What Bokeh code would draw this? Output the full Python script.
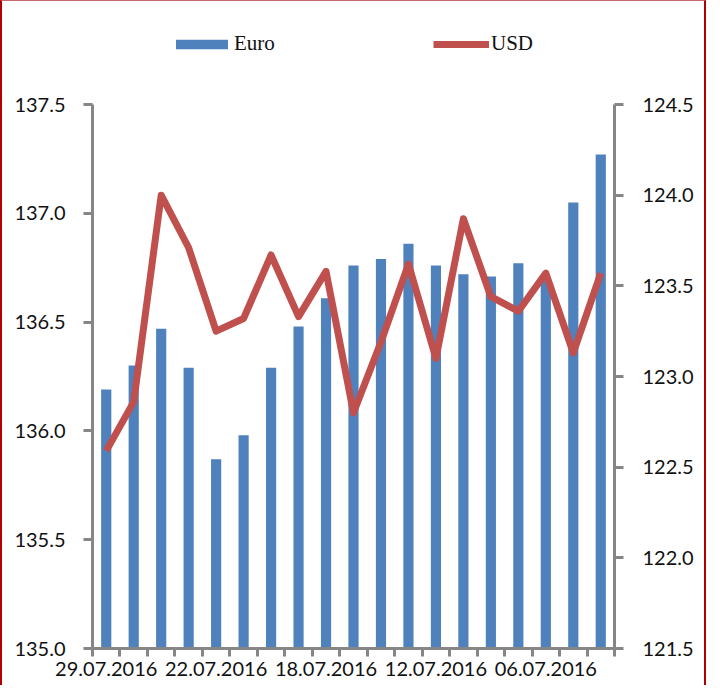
from bokeh.plotting import figure
from bokeh.models import (Range1d, LinearAxis, FixedTicker, SingleIntervalTicker,
                          NumeralTickFormatter, Legend, LegendItem)
from bokeh.embed import file_html
from bokeh.resources import INLINE

# ---- data ----
dates = ["29.07.2016", "28.07.2016", "27.07.2016", "26.07.2016", "22.07.2016",
         "21.07.2016", "20.07.2016", "19.07.2016", "18.07.2016", "15.07.2016",
         "14.07.2016", "13.07.2016", "12.07.2016", "11.07.2016", "08.07.2016",
         "07.07.2016", "06.07.2016", "05.07.2016", "04.07.2016"]
euro = [136.19, 136.30, 136.47, 136.29, 135.87, 135.98, 136.29, 136.48, 136.61, 136.76,
        136.79, 136.86, 136.76, 136.72, 136.71, 136.77, 136.70, 137.05, 137.27]
usd = [122.59, 122.86, 124.00, 123.71, 123.25, 123.32, 123.67, 123.33, 123.58, 122.80,
       123.19, 123.62, 123.10, 123.87, 123.44, 123.36, 123.57, 123.13, 123.57]
euro_range = (135.0, 137.5)
usd_range = (121.5, 124.5)
label_every = 4

n = len(dates)
idx = list(range(n))

AXIS = "#868686"
TICK_FONT = "Lato"

# geometry: the value axes span AXIS_PX pixels; LEGEND_PX extra pixels above
# them are kept inside the frame so the legend is not clipped.
AXIS_PX = 544
LEGEND_PX = 72
ext = (AXIS_PX + LEGEND_PX) / AXIS_PX

def extended(r):
    return Range1d(r[0], r[0] + (r[1] - r[0]) * ext)

p = figure(frame_width=522, frame_height=AXIS_PX + LEGEND_PX,
           x_range=Range1d(-0.5, n - 0.5), y_range=extended(euro_range),
           output_backend="svg", toolbar_location=None,
           min_border_left=90, min_border_right=90, min_border_top=31,
           min_border_bottom=37)
p.extra_y_ranges = {"usd": extended(usd_range)}
p.xgrid.visible = False
p.ygrid.visible = False
p.outline_line_color = None
p.background_fill_color = "white"
p.border_fill_color = "white"
p.styles = {"border-left": "2px solid #b00000", "border-right": "2px solid #b00000",
            "border-top": "1px solid #c86a6a"}

bars = p.vbar(x=idx, top=euro, bottom=euro_range[0], width=0.37,
              fill_color="#4f81bd", line_color=None)
line = p.line(x=idx, y=usd, y_range_name="usd", line_color="#c0504d",
              line_width=7, line_join="round")

# x axis: tick marks between categories, labels every 4th category
xa = p.xaxis[0]
lab_pos = idx[::label_every]
xa.ticker = FixedTicker(ticks=lab_pos, minor_ticks=[i - 0.5 for i in range(n + 1)])
xa.major_label_overrides = {i: dates[i] for i in lab_pos}
xa.major_tick_line_color = None
xa.major_tick_out = 8
xa.major_tick_in = 0
xa.minor_tick_line_color = AXIS
xa.minor_tick_line_width = 3
xa.minor_tick_out = 8
xa.minor_tick_in = 0
xa.major_label_standoff = 5

ya = p.yaxis[0]
ya.ticker = SingleIntervalTicker(interval=0.5)
ya.formatter = NumeralTickFormatter(format="0.0")
ya.major_label_standoff = 18
ya.bounds = euro_range

ra = LinearAxis(y_range_name="usd", ticker=SingleIntervalTicker(interval=0.5),
                formatter=NumeralTickFormatter(format="0.0"), bounds=usd_range)
ra.major_label_standoff = 19
p.add_layout(ra, "right")

for ax in (xa, ya, ra):
    ax.axis_line_color = AXIS
    ax.axis_line_width = 3
    ax.major_label_text_font = TICK_FONT
    ax.major_label_text_font_size = "20px"
    ax.major_label_text_color = "#111111"
for ax in (ya, ra):
    ax.major_tick_line_color = AXIS
    ax.major_tick_line_width = 3
    ax.major_tick_out = 9
    ax.major_tick_in = 0
    ax.minor_tick_line_color = None

def add_legend(label, rend, x, gw, standoff):
    lg = Legend(items=[LegendItem(label=label, renderers=[rend])],
                location=(x, 592), orientation="horizontal",
                glyph_width=gw, glyph_height=12, label_standoff=standoff,
                label_text_font="Liberation Serif", label_text_font_size="21px",
                label_text_color="#111111", padding=0, margin=0, spacing=0,
                border_line_color=None, background_fill_alpha=0)
    p.add_layout(lg, "center")

add_legend("Euro", bars, 77, 65, 0)
add_legend("USD", line, 341, 56, 2)

open("out.html", "w").write(file_html(p, INLINE))
